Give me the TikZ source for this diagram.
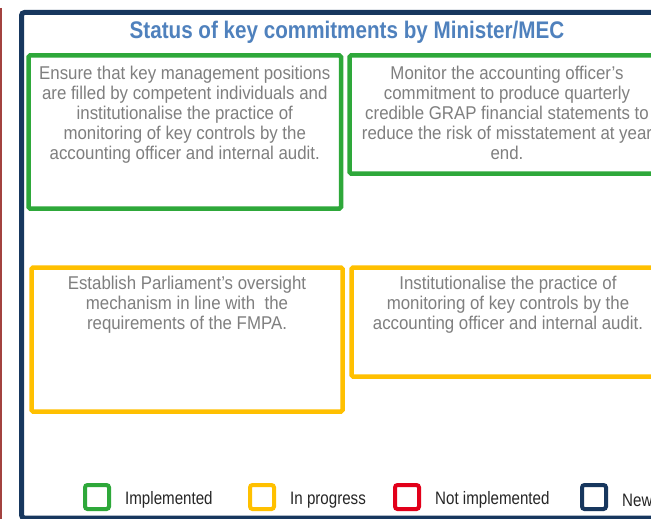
\documentclass[tikz,border=0pt]{standalone}
\usepackage{fontspec}
\setmainfont{Liberation Sans}[FakeStretch=0.84]
\newfontfamily\bodyfont{Liberation Sans}[FakeStretch=0.91]
\newfontfamily\titlefont{Liberation Sans Bold}[FakeStretch=0.86]
\usepackage{tikz}

\definecolor{navyframe}{HTML}{17375E}
\definecolor{statusgreen}{HTML}{2EA83A}
\definecolor{statusyellow}{HTML}{FFC000}
\definecolor{statusred}{HTML}{E2001A}
\definecolor{titleblue}{HTML}{4F81BD}
\definecolor{bodygray}{HTML}{7F7F7F}
\definecolor{sidered}{HTML}{A3423F}

\begin{document}
\begin{tikzpicture}[x=1pt, y=-1pt,
  statusbox/.style={draw, line width=4.5pt, rounded corners=1.5pt, inner sep=0pt},
  bodytext/.style={text=bodygray, align=center, inner sep=0pt, anchor=north,
    font=\bodyfont\fontsize{18.5}{20}\selectfont},
  keybox/.style={draw, line width=4pt, rounded corners=2.5pt, minimum width=24pt, minimum height=24pt, inner sep=0pt},
  keytext/.style={anchor=west, inner sep=0pt, text=black!85, font=\fontsize{18}{20}\selectfont}]
\useasboundingbox (0,0) rectangle (651,519);
\clip (0,0) rectangle (651,519);
\fill[white] (0,0) rectangle (651,519);
% side line and frame
\draw[sidered, line width=2pt] (1,8) -- (1,519);
\draw[navyframe, line width=5pt, rounded corners=3pt] (670,12.5) -- (21.5,12.5) -- (21.5,518) -- (670,518);
\node[text=titleblue, font=\titlefont\fontsize{24}{26}\selectfont, anchor=base, inner sep=0pt] (title) at (347,39) {Status of key commitments by Minister/MEC};
% status boxes
\draw[statusbox, statusgreen] (28.5,55.5) rectangle (341,208.5);
\coordinate (gone) at (184.75,66);
\draw[statusbox, statusgreen] (349.5,55.5) rectangle (665,173.5);
\coordinate (gtwo) at (507,66);
\draw[statusbox, statusyellow] (31.5,267.5) rectangle (342.5,411.5);
\coordinate (yone) at (187,276);
\draw[statusbox, statusyellow] (351.5,267.5) rectangle (665,376.5);
\coordinate (ytwo) at (508,276);
\node[bodytext] (gonetext) at (gone) {Ensure that key management positions\\are filled by competent individuals and\\institutionalise the practice of\\monitoring of key controls by the\\accounting officer and internal audit.};
\node[bodytext] (gtwotext) at (gtwo) {Monitor the accounting officer’s\\commitment to produce quarterly\\credible GRAP financial statements to\\reduce the risk of misstatement at year\\end.};
\node[bodytext] (yonetext) at (yone) {Establish Parliament’s oversight\\mechanism in line with \ the\\requirements of the FMPA.};
\node[bodytext] (ytwotext) at (ytwo) {Institutionalise the practice of\\monitoring of key controls by the\\accounting officer and internal audit.};
% legend
\node[keybox, statusgreen] (keydone) at (97,497) {};
\node[keytext] (keydonelabel) at (125,500) {Implemented};
\node[keybox, statusyellow] (keyprog) at (262,497) {};
\node[keytext] (keyproglabel) at (290,500) {In progress};
\node[keybox, statusred] (keynot) at (407,497) {};
\node[keytext] (keynotlabel) at (435,500) {Not implemented};
\node[keybox, navyframe] (keynew) at (594,497) {};
\node[keytext] (keynewlabel) at (622,500) {New};
\end{tikzpicture}
\end{document}
